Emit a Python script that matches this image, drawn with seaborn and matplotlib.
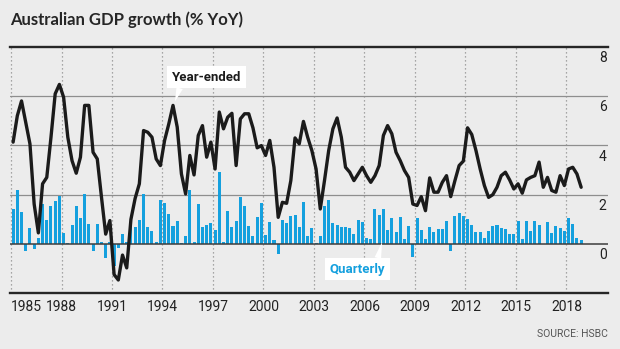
import matplotlib
matplotlib.use("Agg")
import matplotlib.pyplot as plt
import pandas as pd
import seaborn as sns

# Quarterly real GDP growth, 1985 Q1 to 2018 Q4
start_year = 1985
quarterly = [
    1.42, 2.17, 1.31, -0.27, 0.65, -0.20, 0.24, 1.62,
    0.97, 1.53, 1.76, 1.96, 0.45, 0.03, 0.78, 1.52,
    1.06, 2.03, 0.81, -0.27, 0.81, 0.08, -0.57, 0.10,
    -0.90, -0.16, 0.40, 0.10, 0.72, 0.68, 0.99, 2.03,
    0.68, 0.51, 0.08, 1.80, 1.66, 1.22, 0.74, 0.92,
    0.02, 0.31, 2.20, 0.07, 1.62, 0.70, 0.77, 0.84,
    0.58, 2.90, 0.08, 1.35, 0.70, 0.92, 1.90, 1.52,
    0.73, 0.34, 1.11, 1.65, 0.38, 0.88, 0.16, -0.41,
    0.97, 0.84, 1.15, 1.18, 0.70, 1.72, 0.34, 0.65,
    0.05, 0.31, 1.53, 1.79, 0.84, 0.76, 0.68, 0.68,
    0.65, 0.40, 0.99, 0.88, 0.24, 0.20, 1.41, 1.19,
    1.43, 0.58, 1.06, 0.47, 1.11, 0.20, 0.72, -0.54,
    1.06, 0.58, 0.20, 0.68, 0.50, 0.60, 0.62, 0.95,
    -0.30, 1.15, 1.26, 1.15, 1.01, 0.78, 0.47, 0.47,
    0.24, 0.51, 0.72, 0.78, 0.65, 0.61, 0.41, 0.41,
    0.92, 0.22, 0.95, 0.51, 0.95, 0.78, 0.00, 0.91,
    0.43, 0.74, 0.64, 0.54, 1.06, 0.81, 0.24, 0.16,
]
year_ended = [
    4.13, 5.20, 5.80, 4.94, 4.06, 1.62, 0.45, 2.44,
    2.70, 4.33, 6.09, 6.47, 5.95, 4.33, 3.38, 2.87,
    3.52, 5.62, 5.62, 3.72, 3.45, 1.90, 0.40, 0.95,
    -1.24, -1.46, -0.45, -0.97, 1.00, 1.85, 2.44, 4.60,
    4.53, 4.33, 3.45, 3.18, 4.20, 4.87, 5.62, 4.74,
    2.84, 2.03, 3.59, 2.80, 4.40, 4.80, 3.52, 4.13,
    3.04, 5.35, 4.67, 5.14, 5.30, 3.18, 5.07, 5.28,
    5.28, 4.71, 3.90, 3.99, 3.59, 4.20, 3.11, 1.08,
    1.69, 1.65, 2.57, 4.30, 4.06, 4.97, 4.33, 3.79,
    3.04, 1.42, 2.57, 3.79, 4.67, 5.11, 4.33, 3.11,
    2.91, 2.57, 2.84, 3.11, 2.77, 2.50, 2.77, 3.18,
    4.40, 4.80, 4.47, 3.72, 3.38, 2.98, 2.70, 1.62,
    1.56, 1.92, 1.35, 2.68, 2.10, 2.10, 2.50, 2.77,
    1.92, 2.57, 3.18, 3.36, 4.71, 4.44, 3.79, 3.04,
    2.37, 1.89, 2.00, 2.30, 2.77, 2.91, 2.60, 2.23,
    2.44, 2.06, 2.60, 2.70, 2.77, 3.32, 2.30, 2.70,
    2.17, 2.10, 2.77, 2.37, 3.04, 3.11, 2.84, 2.30,
]
year_ticks = list(range(1985, 2019, 3))
value_ticks = [0, 2, 4, 6, 8]

dates = [start_year + k // 4 + (k % 4) / 4 + 0.125 for k in range(len(quarterly))]
df = pd.DataFrame({"date": dates, "quarterly": quarterly, "year_ended": year_ended})

sns.set_theme(style="white")
plt.rcParams["font.family"] = ["Roboto", "DejaVu Sans"]

BG = "#ececec"
BLUE = "#15a0de"
INK = "#1b1b1b"

fig = plt.figure(figsize=(6.2, 3.49), dpi=100, facecolor=BG)
ax = fig.add_axes([10 / 620, 1 - 293.3 / 349, 598 / 620, (293.3 - 46.7) / 349])
ax.set_facecolor(BG)

# background grid: solid horizontal, dotted vertical at the year ticks
for v in [2, 4, 6]:
    ax.axhline(v, color="#8e8e8e", lw=0.9, zorder=0)
for yr in year_ticks:
    ax.axvline(yr, color="#8e8e8e", lw=0.9, ls=(0, (1, 2.2)), zorder=0)

sns.barplot(data=df, x="date", y="quarterly", native_scale=True, width=0.72,
            color=BLUE, saturation=1, errorbar=None, linewidth=0, ax=ax, zorder=2)
ax.axhline(0, color="#3c3c3c", lw=1.1, zorder=2.5)
sns.lineplot(data=df, x="date", y="year_ended", color=INK, lw=2.4, ax=ax, zorder=3)

ax.set_xlim(1984.94, 2020.47)
ax.set_ylim(-2, 8)
ax.set_xlabel("")
ax.set_ylabel("")

for side in ["left", "right"]:
    ax.spines[side].set_visible(False)
for side in ["top", "bottom"]:
    ax.spines[side].set_color("#262626")
    ax.spines[side].set_linewidth(1.7)

ax.set_xticks(year_ticks)
ax.set_xticklabels([str(y) for y in year_ticks])
ax.tick_params(axis="x", length=0, pad=5, labelsize=10, colors="#222222")
ax.get_xticklabels()[0].set_ha("left")
ax.set_yticks([])

# value labels sit just under their gridlines at the right edge
for v in value_ticks:
    ax.annotate(str(v), xy=(1, v), xycoords=("axes fraction", "data"),
                xytext=(-1, -3), textcoords="offset points",
                ha="right", va="top", fontsize=10, color="#222222")

ax.annotate("Year-ended", xy=(1994.74, 5.78), xytext=(1996.6, 6.77),
            ha="center", va="center", fontsize=9.5, fontweight="bold", color=INK,
            bbox=dict(boxstyle="square,pad=0.35", fc="white", ec="none"),
            arrowprops=dict(arrowstyle="wedge,tail_width=0.5", fc="white", ec="none",
                            shrinkA=0, shrinkB=0, relpos=(0.14, 0)),
            zorder=5)
ax.annotate("Quarterly", xy=(2007.05, 0.08), xytext=(2005.6, -1.02),
            ha="center", va="center", fontsize=9.5, fontweight="bold", color=BLUE,
            bbox=dict(boxstyle="square,pad=0.35", fc="white", ec="none"),
            arrowprops=dict(arrowstyle="wedge,tail_width=0.5", fc="white", ec="none",
                            shrinkA=0, shrinkB=0, relpos=(0.84, 1)),
            zorder=5)

fig.text(10 / 620, 1 - 20 / 349, "Australian GDP growth (% YoY)", ha="left", va="center",
         fontsize=12.0, fontweight="bold", family=["Lato", "Roboto", "DejaVu Sans"],
         color="#262626")
fig.text(608 / 620, 1 - 334 / 349, "SOURCE: HSBC", ha="right", va="center",
         fontsize=7.5, color="#555555")

fig.savefig("out.png", dpi=100, facecolor=BG)
